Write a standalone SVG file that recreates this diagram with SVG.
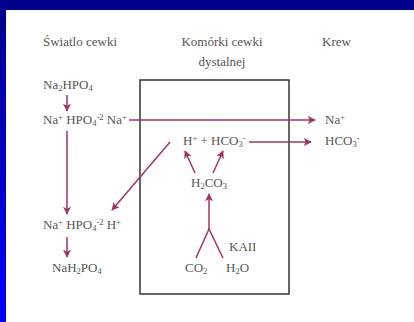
<svg xmlns="http://www.w3.org/2000/svg" width="414" height="322" viewBox="0 0 414 322">
<defs>
<linearGradient id="bg" x1="0" y1="0" x2="0" y2="1">
<stop offset="0" stop-color="#00008C"/>
<stop offset="1" stop-color="#0000FF"/>
</linearGradient>
<marker id="ah" viewBox="0 0 10 10" refX="9" refY="5" markerWidth="8" markerHeight="8" markerUnits="userSpaceOnUse" orient="auto">
<path d="M0,0 L10,5 L0,10 L2.5,5 Z" fill="#A3335F"/>
</marker>
<style>
text{font-family:"Liberation Serif","Times New Roman",serif;font-size:13px;fill:#555555}
.s{font-size:8.5px}
.c{fill:none;stroke:#A3335F;stroke-width:1.5}
.a{marker-end:url(#ah)}
</style>
</defs>
<rect x="0" y="0" width="414" height="322" fill="url(#bg)"/>
<rect x="6" y="10" width="408" height="312" fill="#FFFFFF"/>
<g id="box">
<rect x="140" y="80" width="149" height="214" fill="none" stroke="#333333" stroke-width="1.5"/>
</g>
<g id="connectors">
<line class="c a" x1="67" y1="95" x2="67" y2="111"/>
<line class="c a" x1="129" y1="120" x2="315" y2="120"/>
<line class="c a" x1="249" y1="142" x2="311" y2="142"/>
<line class="c a" x1="67" y1="131" x2="67" y2="214"/>
<line class="c a" x1="170" y1="142" x2="112" y2="210"/>
<line class="c a" x1="195" y1="173" x2="185" y2="151"/>
<line class="c a" x1="213" y1="173" x2="223" y2="151"/>
<line class="c a" x1="209" y1="229" x2="209" y2="194"/>
<polyline class="c" points="196,258 209,229 223,258"/>
<line class="c a" x1="67" y1="237" x2="67" y2="257"/>
</g>
<g id="header-lumen"><text x="43" y="46">Światlo cewki</text></g>
<g id="header-cell"><text x="222" y="46" text-anchor="middle">Komórki cewki</text><text x="222" y="66" text-anchor="middle">dystalnej</text></g>
<g id="header-blood"><text x="322" y="46">Krew</text></g>
<g id="na2hpo4"><text x="43" y="89">Na<tspan class="s" dy="2">2</tspan><tspan dy="-2">HPO</tspan><tspan class="s" dy="2">4</tspan></text></g>
<g id="lumen-top"><text x="43" y="124">Na<tspan class="s" dy="-4">+</tspan><tspan dy="4"> HPO</tspan><tspan class="s" dy="2">4</tspan><tspan class="s" dy="-6">-2</tspan><tspan dy="4"> Na</tspan><tspan class="s" dy="-4">+</tspan></text></g>
<g id="blood-na"><text x="325" y="124">Na<tspan class="s" dy="-4">+</tspan></text></g>
<g id="cell-h-hco3"><text x="183" y="145">H<tspan class="s" dy="-4">+</tspan><tspan dy="4"> + HCO</tspan><tspan class="s" dy="2">3</tspan><tspan class="s" dy="-6">-</tspan></text></g>
<g id="blood-hco3"><text x="325" y="145">HCO<tspan class="s" dy="2">3</tspan><tspan class="s" dy="-6">-</tspan></text></g>
<g id="h2co3"><text x="191" y="187">H<tspan class="s" dy="2">2</tspan><tspan dy="-2">CO</tspan><tspan class="s" dy="2">3</tspan></text></g>
<g id="kaii"><text x="229" y="251">KAII</text></g>
<g id="co2"><text x="185" y="272">CO<tspan class="s" dy="2">2</tspan></text></g>
<g id="h2o"><text x="226" y="272">H<tspan class="s" dy="2">2</tspan><tspan dy="-2">O</tspan></text></g>
<g id="lumen-bottom"><text x="43" y="229">Na<tspan class="s" dy="-4">+</tspan><tspan dy="4">  HPO</tspan><tspan class="s" dy="2">4</tspan><tspan class="s" dy="-6">-2</tspan><tspan dy="4"> H</tspan><tspan class="s" dy="-4">+</tspan></text></g>
<g id="nah2po4"><text x="52" y="272">NaH<tspan class="s" dy="2">2</tspan><tspan dy="-2">PO</tspan><tspan class="s" dy="2">4</tspan></text></g>
</svg>
